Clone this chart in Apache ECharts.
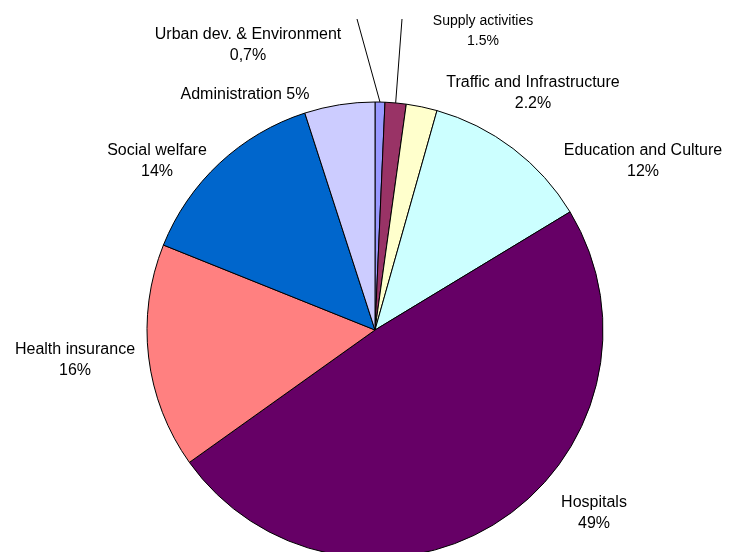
<!DOCTYPE html>
<html>
<head>
<meta charset="utf-8">
<script src="https://cdn.jsdelivr.net/npm/echarts@6/dist/echarts.min.js"></script>
<style>
  html, body { margin: 0; padding: 0; background: #fff; }
  #chart { width: 730px; height: 552px; }
</style>
</head>
<body>
<div id="chart"></div>
<script>
// slices, clockwise from 12 o'clock
const categories = ['Urban dev. & Environment', 'Supply activities', 'Traffic and Infrastructure',
  'Education and Culture', 'Hospitals', 'Health insurance', 'Social welfare', 'Administration']
const shares = [0.7, 1.5, 2.2, 12, 49, 16, 14, 5]
const shareLabels = ['0,7%', '1.5%', '2.2%', '12%', '49%', '16%', '14%', '5%']
const colors = ['#9999FF', '#993366', '#FFFFCC', '#CCFFFF', '#660066', '#FF8080', '#0066CC', '#CCCCFF']

// where each label sits (centre of the text block)
const labelPos = [[248, 45], [483, 31], [533, 93], [643, 161], [594, 513], [75, 360], [157, 161], [245, 95]]
// outer ends of the two leader lines
const lineEnds = { 0: [357, 19], 1: [402, 19] }

const chart = echarts.init(document.getElementById('chart'))

chart.setOption({
  animation: false,
  series: [
    {
      type: 'pie',
      center: [375, 330],
      radius: 228,
      startAngle: 90,
      clockwise: true,
      avoidLabelOverlap: false,
      itemStyle: {
        borderColor: '#000',
        borderWidth: 1
      },
      emphasis: { disabled: true },
      label: {
        show: true,
        position: 'outside',
        color: '#000',
        fontFamily: 'Liberation Sans, Arial, sans-serif',
        fontSize: 16,
        lineHeight: 21,
        formatter: p => {
          if (p.dataIndex === 7) return categories[7] + ' ' + shareLabels[7]
          return categories[p.dataIndex] + '\n' + shareLabels[p.dataIndex]
        }
      },
      labelLine: {
        show: false,
        lineStyle: { color: '#000', width: 1 }
      },
      labelLayout: params => {
        const i = params.dataIndex
        const res = {
          x: labelPos[i][0],
          y: labelPos[i][1],
          align: 'center',
          verticalAlign: 'middle'
        }
        if (lineEnds[i] && params.labelLinePoints) {
          const s = params.labelLinePoints[0]
          res.labelLinePoints = [s, lineEnds[i], lineEnds[i]]
        }
        return res
      },
      data: categories.map((name, i) => {
        const item = {
          name: name,
          value: shares[i],
          itemStyle: { color: colors[i] }
        }
        if (i === 0 || i === 1) {
          item.labelLine = { show: true }
        }
        if (i === 1) {
          item.label = { fontSize: 14, lineHeight: 20 }
        }
        return item
      })
    }
  ]
})
</script>
</body>
</html>
